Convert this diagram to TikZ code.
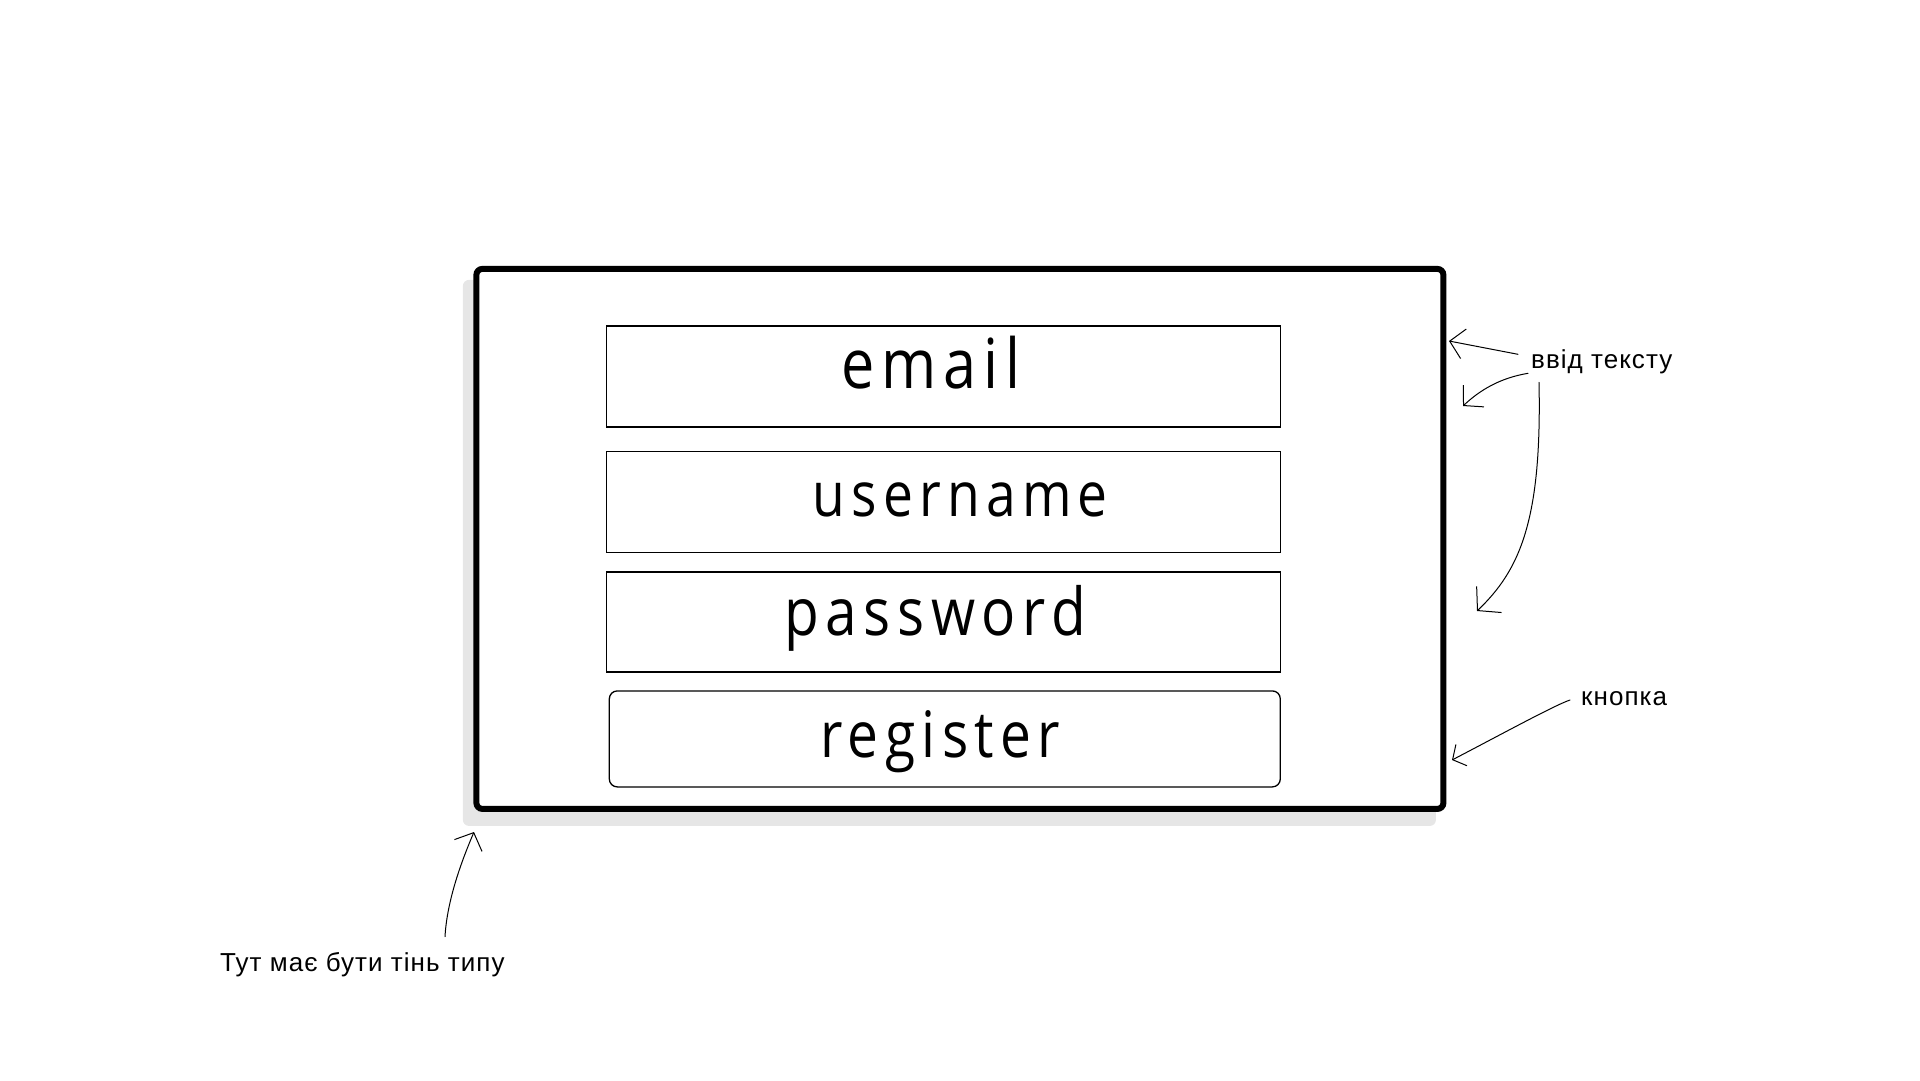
\documentclass[tikz,border=0pt]{standalone}
\usepackage{fontspec}
\setmainfont{Liberation Sans}
\newfontfamily\fieldfont[FakeStretch=0.86, LetterSpace=10]{Open Sans}
\usetikzlibrary{positioning}
\usetikzlibrary{arrows.meta}
\definecolor{shadowgray}{HTML}{E6E6E6}

\begin{document}
\begin{tikzpicture}[x=1pt, y=-1pt, node distance={20pt},
    form/.style = {draw, line width=6pt, rounded corners=6pt, minimum width=967pt, minimum height=540pt, inner sep=0pt},
    field/.style = {draw, line width=1.3pt, minimum width=674pt, minimum height=101pt, inner sep=0pt},
    button/.style = {field, rounded corners=8pt, minimum width=671pt, minimum height=96pt},
    ftext/.style = {anchor=base, inner sep=0pt},
    note/.style = {anchor=base west, inner sep=0pt, font=\fontsize{26}{30}\selectfont\addfontfeature{LetterSpace=4}},
    hand/.style = {line width=1pt, line cap=round, -{Straight Barb[length=14pt, width=30pt]}}]
    \useasboundingbox (0,0) rectangle (1920,1080);
    % Window and its shadow
    \node[form, draw=none, fill=shadowgray, minimum width=973pt, minimum height=546pt] (shadow) at (949.4,552.9) {};
    \node[form, fill=white] (form) at (959.9,538.9) {};
    % Fields
    \node[field] (email) at (943.3,376.5) {};
    \node[field] (username) [below=23.5pt of email] {};
    \node[field, minimum height=100pt] (password) [below=18pt of username] {};
    \node[button] (register) [below=17.5pt of password, xshift=1.5pt] {};
    \node[ftext, font=\fontsize{69}{80}\fieldfont] (emailtxt) at ([shift={(-12,11.8)}]email.center) {email};
    \node[ftext, font=\fontsize{62}{72}\fieldfont] (usertxt) at ([shift={(17,13.8)}]username.center) {username};
    \node[ftext, font=\fontsize{66}{76}\fieldfont] (passtxt) at ([shift={(-8,13.8)}]password.center) {password};
    \node[ftext, font=\fontsize{64}{74}\fieldfont] (regtxt) at ([shift={(-4.5,18.6)}]register.center) {register};
    % Notes
    \node[note] (vvid) at (1531,368.3) {ввід тексту};
    \node[note] (knopka) at (1581,705) {кнопка};
    \node[note] (shadownote) at (220,971.7) {Тут має бути тінь типу};
    \coordinate (t1) at (1449,341);
    \coordinate (t2) at (1463,406);
    \coordinate (t3) at (1477,611);
    \coordinate (t4) at (1452,760);
    \coordinate (t5) at (474,832);
    % Arrows
    \draw[hand] ([shift={(-13,-14)}]vvid.base west) -- (t1);
    \draw[hand] ([shift={(-3,5)}]vvid.base west) .. controls (1500,378) and (1480,390) .. (t2);
    \draw[hand, -{Straight Barb[length=16pt, width=36pt]}] ([shift={(8,14)}]vvid.base west) .. controls (1542,520) and (1520,570) .. (t3);
    \draw[hand, -{Straight Barb[length=10pt, width=24pt]}] ([shift={(-11,-5)}]knopka.base west) .. controls (1555,705) and (1500,735) .. (t4);
    \draw[hand] ([shift={(225,-35)}]shadownote.base west) .. controls (447,900) and (462,860) .. (t5);
\end{tikzpicture}
\end{document}
